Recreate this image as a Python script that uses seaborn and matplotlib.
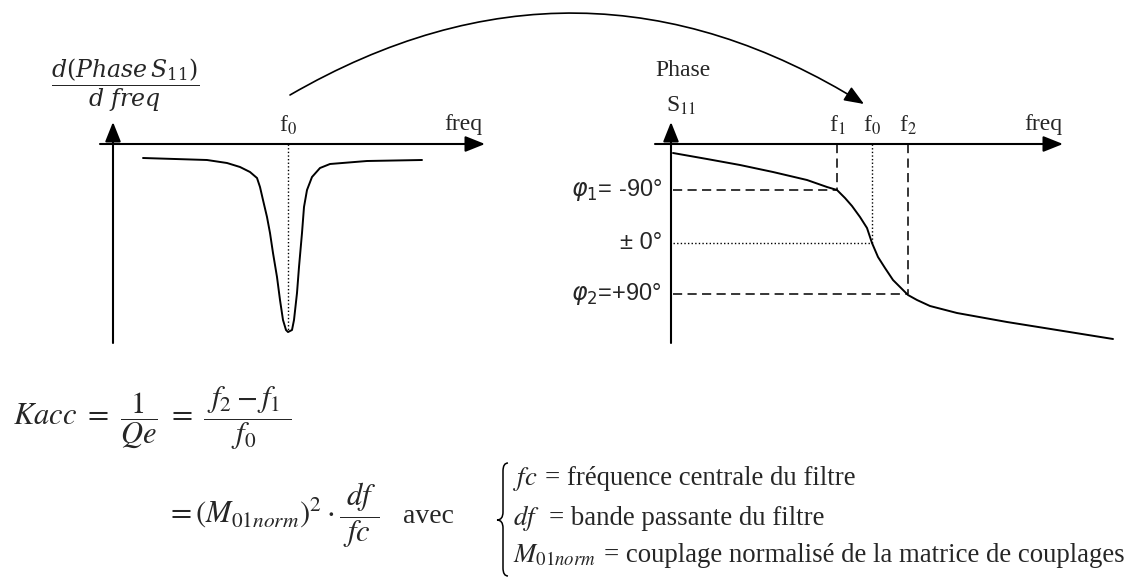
import matplotlib
matplotlib.use("Agg")
import matplotlib.pyplot as plt
import seaborn as sns
from matplotlib.path import Path
from matplotlib.patches import PathPatch

# ---------------- data (arbitrary units) ----------------
# left panel: d(Phase S11)/d freq  (freq offset from y-axis, value below x-axis)
deriv_freq = [30, 94, 114, 127, 137, 144, 147, 150, 154, 157, 160, 164, 167, 170,
              173, 175, 179, 181, 184, 186, 189, 191, 194, 199, 207, 217, 254, 309]
deriv_value = [-14, -16, -19, -23, -28, -34, -43, -56, -73, -89, -109, -133, -156, -176,
               -186, -188, -186, -176, -149, -123, -89, -63, -46, -33, -24, -20, -17, -16]
deriv_f0 = 175

# right panel: Phase S11
phase_freq = [2, 36, 69, 102, 136, 156, 166, 174, 181, 189, 196, 201, 207, 214,
              222, 231, 237, 246, 259, 286, 336, 386, 442]
phase_value = [-9, -15, -21, -28, -36, -43, -46, -54, -62, -73, -84, -99, -113, -124,
               -136, -145, -151, -156, -162, -169, -178, -186, -195]
marker_names = [r"f$_1$", r"f$_0$", r"f$_2$"]
marker_freq = [166, 201, 237]
marker_level = [-46, -99, -150]
marker_style = ["dashed", "dotted", "dashed"]
level_labels = [r"$\varphi_{1}$= -90°", "± 0°", r"$\varphi_{2}$=+90°"]

W, H, DPI = 1132, 577, 100

sns.set_theme(style="white")
plt.rcParams["font.family"] = ["Liberation Serif", "DejaVu Serif"]
plt.rcParams["mathtext.fontset"] = "stix"

fig = plt.figure(figsize=(W / DPI, H / DPI), dpi=DPI)
fig.patch.set_facecolor("white")

def add_panel(px0, px1, py0, py1, ox, oy):
    ax = fig.add_axes([px0 / W, (H - py1) / H, (px1 - px0) / W, (py1 - py0) / H])
    ax.set_xlim(px0 - ox, px1 - ox)
    ax.set_ylim(-(py1 - oy), -(py0 - oy))
    ax.axis("off")
    return ax

axis_arrow = dict(arrowstyle="-|>,head_length=0.8,head_width=0.32", lw=1.5,
                  color="black", shrinkA=0, shrinkB=0, mutation_scale=15)

DASH = (0, (6, 3.5))
DOT = (0, (1, 1.6))

# ---------------- left panel ----------------
axL = add_panel(90, 500, 100, 355, 113, 144)
axL.annotate("", xy=(372, 0), xytext=(-13, 0), arrowprops=axis_arrow)
axL.annotate("", xy=(0, 22), xytext=(0, -199), arrowprops=axis_arrow)
sns.lineplot(x=deriv_freq, y=deriv_value, ax=axL, color="black", lw=1.4,
             sort=False, estimator=None)
axL.plot([deriv_f0, deriv_f0], [0, min(deriv_value)], color="black", lw=1.0, ls=DOT)
axL.text(deriv_f0, 19, r"f$_0$", fontsize=17, ha="center", va="center")
axL.text(350, 20, "freq", fontsize=17, ha="center", va="center")
axL.text(12, 59, r"$\dfrac{d(Phase\,S_{11})}{d\ freq}$", fontsize=17,
         ha="center", va="center", math_fontfamily="dejavuserif")

# ---------------- right panel ----------------
axR = add_panel(640, 1125, 100, 355, 671, 144)
axR.annotate("", xy=(392, 0), xytext=(-16, 0), arrowprops=axis_arrow)
axR.annotate("", xy=(0, 22), xytext=(0, -199), arrowprops=axis_arrow)
sns.lineplot(x=phase_freq, y=phase_value, ax=axR, color="black", lw=1.4,
             sort=False, estimator=None)
for name, fx, lv, st, lab in zip(marker_names, marker_freq, marker_level,
                                  marker_style, level_labels):
    ls = DASH if st == "dashed" else DOT
    lw = 1.1 if st == "dashed" else 1.0
    axR.plot([fx, fx], [0, lv], color="black", lw=lw, ls=ls)
    axR.plot([2, fx], [lv, lv], color="black", lw=lw, ls=ls)
    axR.text(fx, 19, name, fontsize=17, ha="center", va="center")
    axR.text(-9, lv, lab, fontsize=17, ha="right", va="center",
             family=["Liberation Sans", "DejaVu Sans"], math_fontfamily="dejavusans")
axR.text(372, 20, "freq", fontsize=17, ha="center", va="center")
axR.text(12, 74, "Phase", fontsize=17, ha="center", va="center")
axR.text(10, 38, r"S$_{11}$", fontsize=17, ha="center", va="center")

# ---------------- overlay (pixel coordinates) ----------------
ax0 = fig.add_axes([0, 0, 1, 1], zorder=-1)
ax0.set_xlim(0, W)
ax0.set_ylim(H, 0)
ax0.axis("off")

ax0.annotate("", xy=(864, 104), xytext=(290, 95),
             arrowprops=dict(arrowstyle="-|>,head_length=0.8,head_width=0.32",
                             connectionstyle="arc3,rad=-0.30", lw=1.2, color="black",
                             shrinkA=0, shrinkB=0, mutation_scale=15))

ax0.text(13, 425,
         r"$Kacc\ =\ \dfrac{\ 1\ }{Qe}\ =\ \dfrac{\ f_2 - f_1\ }{f_0}$",
         fontsize=22, ha="left", va="baseline")
ax0.text(166, 523, r"$= \left(M_{01norm}\right)^2 \cdot \dfrac{\ df\ }{fc}$",
         fontsize=22, ha="left", va="baseline")
ax0.text(403, 523, "avec", fontsize=20, ha="left", va="baseline")

# brace
verts = [(508, 463), (503, 463), (503, 471), (503, 512), (503, 520), (497, 520),
         (503, 520), (503, 528), (503, 568), (503, 576), (508, 576)]
codes = [Path.MOVETO, Path.CURVE3, Path.CURVE3, Path.LINETO, Path.CURVE3, Path.CURVE3,
         Path.CURVE3, Path.CURVE3, Path.LINETO, Path.CURVE3, Path.CURVE3]
ax0.add_patch(PathPatch(Path(verts, codes), fill=False, lw=1.1, color="black"))

defs_math = [r"$fc$", r"$df$", r"$M_{01norm}$"]
defs_text = ["= fréquence centrale du filtre", "= bande passante du filtre",
             "= couplage normalisé de la matrice de couplages"]
defs_eq_x = [545, 549, 604]
defs_base = [485, 525, 562]
for m, t, ex, by in zip(defs_math, defs_text, defs_eq_x, defs_base):
    ax0.text(513, by, m, fontsize=19.3, ha="left", va="baseline")
    ax0.text(ex, by, t, fontsize=19.3, ha="left", va="baseline")

fig.savefig("out.png", dpi=DPI, facecolor="white")
